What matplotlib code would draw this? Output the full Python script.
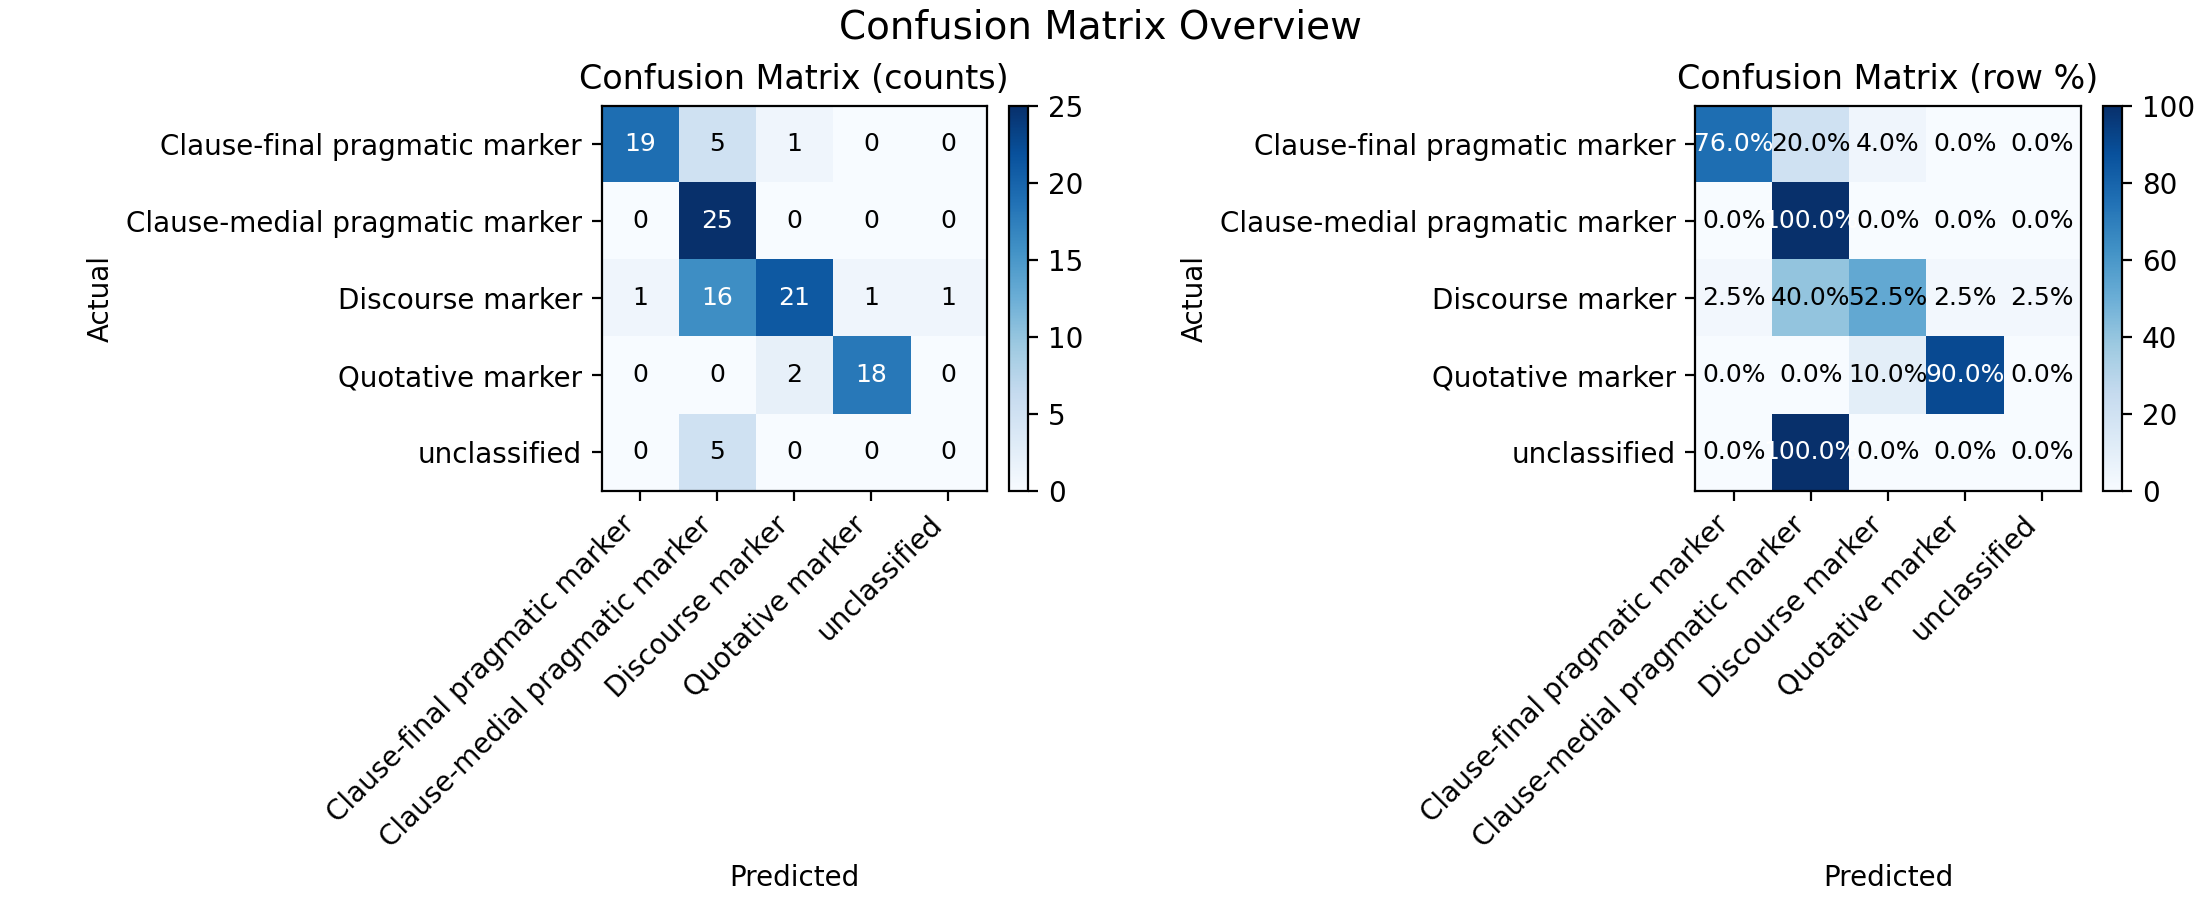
import matplotlib
matplotlib.use("Agg")
import matplotlib.pyplot as plt
import numpy as np

# class labels
labels = ['Clause-final pragmatic marker', 'Clause-medial pragmatic marker',
          'Discourse marker', 'Quotative marker', 'unclassified']

# raw counts (rows = actual, cols = predicted)
counts = [[19, 5, 1, 0, 0],
          [0, 25, 0, 0, 0],
          [1, 16, 21, 1, 1],
          [0, 0, 2, 18, 0],
          [0, 5, 0, 0, 0]]

# row percentages
row_pct = [[76.0, 20.0, 4.0, 0.0, 0.0],
           [0.0, 100.0, 0.0, 0.0, 0.0],
           [2.5, 40.0, 52.5, 2.5, 2.5],
           [0.0, 0.0, 10.0, 90.0, 0.0],
           [0.0, 100.0, 0.0, 0.0, 0.0]]

fig, axes = plt.subplots(1, 2, figsize=(11, 4.5), dpi=200, layout='constrained')


def draw(ax, data, title, fmt, thresh):
    data = np.array(data)
    im = ax.imshow(data, cmap='Blues', vmin=0, vmax=data.max())
    fig.colorbar(im, ax=ax, fraction=0.046, pad=0.04)
    ax.set_title(title)
    ax.set_xticks(range(len(labels)))
    ax.set_yticks(range(len(labels)))
    ax.set_xticklabels(labels, rotation=45, ha='right')
    ax.set_yticklabels(labels)
    ax.set_xlabel('Predicted')
    ax.set_ylabel('Actual')
    for i in range(data.shape[0]):
        for j in range(data.shape[1]):
            ax.text(j, i, fmt(data[i, j]), ha='center', va='center', fontsize=9,
                    color='white' if data[i, j] > thresh else 'black')


draw(axes[0], counts, 'Confusion Matrix (counts)', lambda v: str(int(v)), 12.5)
draw(axes[1], row_pct, 'Confusion Matrix (row %)', lambda v: f'{v:.1f}%', 60)

fig.suptitle('Confusion Matrix Overview', fontsize=14)
fig.savefig('out.png')
